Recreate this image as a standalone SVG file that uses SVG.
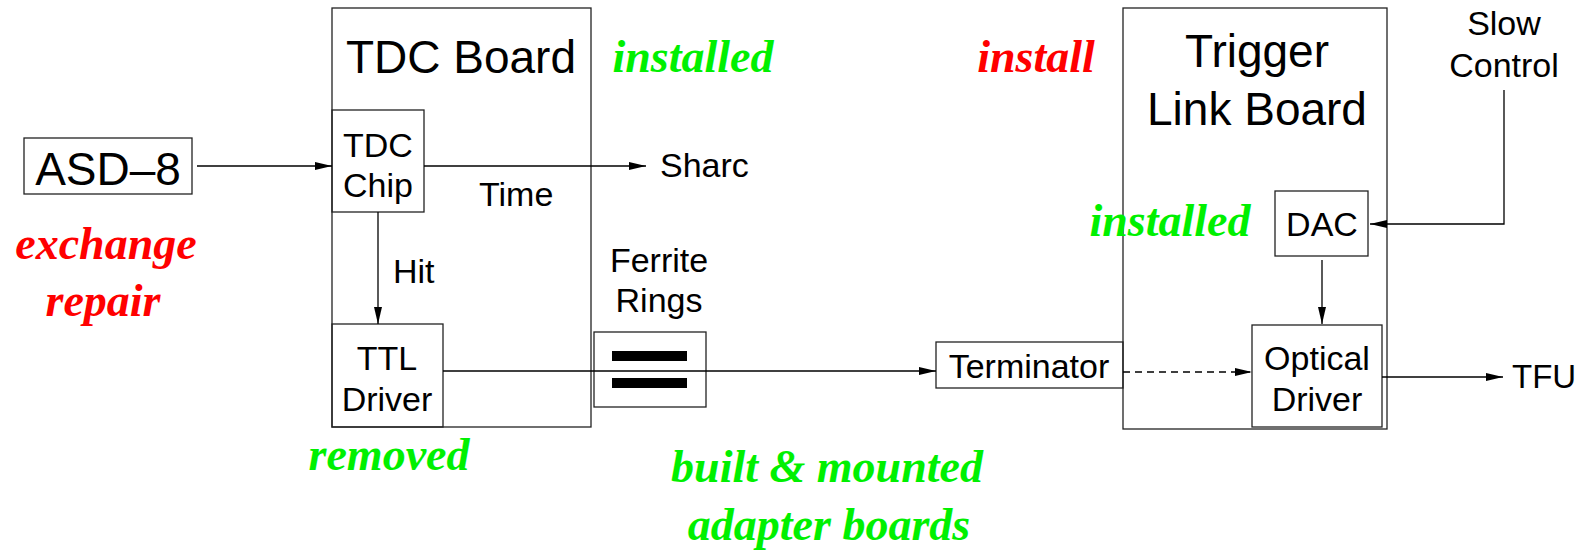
<svg xmlns="http://www.w3.org/2000/svg" width="1580" height="551" viewBox="0 0 1580 551">
<defs>
<marker id="arr" markerUnits="userSpaceOnUse" markerWidth="18" markerHeight="10" refX="17" refY="4" orient="auto">
<path d="M0,0 L17,4 L0,8 z" fill="#000"/>
</marker>
<style>
.box{fill:none;stroke:#222;stroke-width:1.3}
.ln{fill:none;stroke:#000;stroke-width:1.3}
.t{font-family:"Liberation Sans",Arial,sans-serif;font-size:34px;fill:#000;text-anchor:middle}
.s{text-anchor:start}
.big{font-size:46px}
.note{font-family:"Liberation Serif","Times New Roman",serif;font-weight:bold;font-style:italic;font-size:46px;text-anchor:middle}
.g{fill:#00f000}
.r{fill:#ff0000}
</style>
</defs>
<rect width="1580" height="551" fill="#fff"/>

<g id="asd8">
<rect class="box" x="24" y="138" width="168" height="56"/>
<text class="t big" x="108" y="185">ASD–8</text>
</g>
<g id="tdc-board">
<rect class="box" x="332" y="8" width="259" height="419"/>
<text class="t big" x="461" y="73">TDC Board</text>
</g>
<g id="tdc-chip">
<rect class="box" x="332" y="110" width="92" height="102"/>
<text class="t" x="378" y="157">TDC</text>
<text class="t" x="378" y="197">Chip</text>
</g>
<g id="ttl-driver">
<rect class="box" x="332" y="324" width="111" height="103"/>
<text class="t" x="387" y="370">TTL</text>
<text class="t" x="387" y="411">Driver</text>
</g>
<g id="ferrite">
<rect class="box" x="594" y="332" width="112" height="75"/>
<rect x="612" y="351" width="75" height="10" fill="#000"/>
<rect x="612" y="378" width="75" height="10" fill="#000"/>
<text class="t" x="659" y="272">Ferrite</text>
<text class="t" x="659" y="312">Rings</text>
</g>
<g id="terminator">
<rect class="box" x="936" y="342" width="187" height="46"/>
<text class="t" x="1029" y="378">Terminator</text>
</g>
<g id="trigger-link-board">
<rect class="box" x="1123" y="8" width="264" height="421"/>
<text class="t big" x="1257" y="67">Trigger</text>
<text class="t big" x="1257" y="125">Link Board</text>
</g>
<g id="dac">
<rect class="box" x="1275" y="191" width="93" height="65"/>
<text class="t" x="1322" y="236">DAC</text>
</g>
<g id="optical-driver">
<rect class="box" x="1252" y="325" width="130" height="102"/>
<text class="t" x="1317" y="370">Optical</text>
<text class="t" x="1317" y="411">Driver</text>
</g>
<g id="slow-control">
<text class="t" x="1504" y="35">Slow</text>
<text class="t" x="1504" y="77">Control</text>
</g>
<g id="sharc"><text class="t s" x="660" y="177">Sharc</text></g>
<g id="tfu"><text class="t s" x="1512" y="388" style="font-size:33px">TFU</text></g>

<g id="connectors">
<line class="ln" x1="197" y1="166" x2="332" y2="166" marker-end="url(#arr)"/>
<line class="ln" x1="424" y1="166" x2="646" y2="166" marker-end="url(#arr)"/>
<text class="t s" x="479" y="206">Time</text>
<line class="ln" x1="378" y1="212" x2="378" y2="324" marker-end="url(#arr)"/>
<text class="t s" x="393" y="283">Hit</text>
<line class="ln" x1="443" y1="371" x2="936" y2="371" marker-end="url(#arr)"/>
<line class="ln" x1="1123" y1="372" x2="1252" y2="372" stroke-dasharray="7,5" marker-end="url(#arr)"/>
<polyline class="ln" points="1504,90 1504,224 1370,224" marker-end="url(#arr)"/>
<line class="ln" x1="1322" y1="260" x2="1322" y2="324" marker-end="url(#arr)"/>
<line class="ln" x1="1382" y1="377" x2="1503" y2="377" marker-end="url(#arr)"/>
</g>

<g id="annotations">
<text class="note g" x="693" y="72">installed</text>
<text class="note r" x="1036" y="72">install</text>
<text class="note g" x="1170" y="236">installed</text>
<text class="note r" x="106" y="259">exchange</text>
<text class="note r" x="103" y="316">repair</text>
<text class="note g" x="389" y="470">removed</text>
<text class="note g" x="827" y="482">built &amp; mounted</text>
<text class="note g" x="829" y="540">adapter boards</text>
</g>
</svg>
